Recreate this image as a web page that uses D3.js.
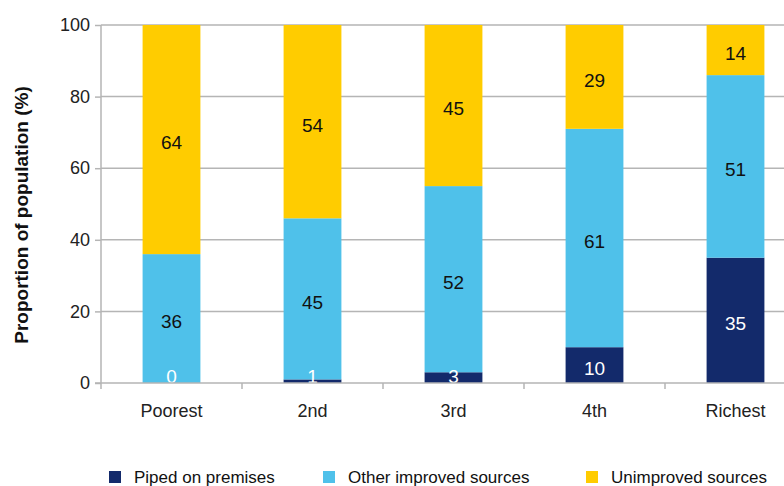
<!DOCTYPE html>
<html>
<head>
<meta charset="utf-8">
<script src="https://cdn.jsdelivr.net/npm/d3@7"></script>
<style>
  body { margin: 0; background: #fff; }
  svg { display: block; font-family: 'Liberation Sans Narrow', 'Liberation Sans', Arial, sans-serif; }
  .axis text { font-size: 18px; fill: #222; }
  .axis path, .axis line { stroke: #b5b5b5; }
</style>
</head>
<body>
<div id="chart"></div>
<script>
const quintiles = ['Poorest', '2nd', '3rd', '4th', 'Richest'];
const piped = [0, 1, 3, 10, 35];
const otherImproved = [36, 45, 52, 61, 51];
const unimproved = [64, 54, 45, 29, 14];
const seriesNames = ['Piped on premises', 'Other improved sources', 'Unimproved sources'];
const seriesColors = ['#132a6b', '#4fc1ea', '#ffcc00'];
const labelColors = ['#fff', '#111', '#111'];
const yTicks = [0, 20, 40, 60, 80, 100];

const width = 784, height = 486;
const m = {top: 25, left: 101, bottom: 103};

const rows = quintiles.map((q, i) => ({q, a: piped[i], b: otherImproved[i], c: unimproved[i]}));
const stack = d3.stack().keys(['a', 'b', 'c']);
const layers = stack(rows);

const x = d3.scaleBand().domain(quintiles).range([m.left, m.left + 141 * 5]).paddingInner(0.59).paddingOuter(0.295);
const xEdge = d3.scaleBand().domain(quintiles).range([m.left, m.left + 141 * 5]);
const y = d3.scaleLinear().domain([0, 100]).range([height - m.bottom, m.top]);

const svg = d3.select('#chart').append('svg').attr('width', width).attr('height', height);

// gridlines
svg.append('g').selectAll('line').data(yTicks.filter(d => d > 0)).enter().append('line')
  .attr('x1', m.left).attr('x2', width)
  .attr('y1', d => y(d)).attr('y2', d => y(d))
  .attr('stroke', '#b5b5b5').attr('stroke-width', 1.5);

// bars first, labels on top
const bars = svg.append('g');
const labels = svg.append('g');
layers.forEach((layer, li) => {
  bars.selectAll('rect.s' + li).data(layer).enter().append('rect')
    .attr('class', 's' + li)
    .attr('x', d => x(d.data.q))
    .attr('width', x.bandwidth())
    .attr('y', d => y(d[1]))
    .attr('height', d => y(d[0]) - y(d[1]))
    .attr('fill', seriesColors[li]);
  labels.selectAll('text.s' + li).data(layer).enter().append('text')
    .attr('class', 's' + li)
    .attr('x', d => x(d.data.q) + x.bandwidth() / 2)
    .attr('y', d => Math.min(y((d[0] + d[1]) / 2) + 3, y(0) - 7))
    .attr('dy', '0.36em')
    .attr('text-anchor', 'middle')
    .attr('font-size', 19)
    .attr('fill', labelColors[li])
    .text(d => d[1] - d[0]);
});

// y axis
const yAxis = svg.append('g').attr('class', 'axis')
  .attr('transform', `translate(${m.left},0)`)
  .call(d3.axisLeft(y).tickValues(yTicks).tickSize(6).tickPadding(5).tickSizeOuter(0));
yAxis.select('.domain').attr('d', `M0,${y(100)}V${y(0) + 6}`).attr('stroke-width', 1.5);
yAxis.selectAll('line').attr('stroke-width', 1.5);
yAxis.selectAll('text').attr('font-size', 19);

// x axis
const xAxis = svg.append('g').attr('class', 'axis')
  .attr('transform', `translate(0,${y(0)})`)
  .call(d3.axisBottom(x).tickSize(0).tickPadding(21));
xAxis.select('.domain').attr('d', `M${m.left - 6},0H${width}`).attr('stroke-width', 1.5);
xAxis.selectAll('.edge').data(quintiles.slice(1)).enter().append('line')
  .attr('class', 'edge')
  .attr('x1', d => xEdge(d)).attr('x2', d => xEdge(d))
  .attr('y1', 0).attr('y2', 6)
  .attr('stroke', '#b5b5b5').attr('stroke-width', 1.5);

// y title
svg.append('text')
  .attr('transform', `translate(28,215) rotate(-90)`)
  .attr('text-anchor', 'middle')
  .attr('font-size', 19).attr('font-weight', 'bold').attr('fill', '#111')
  .text('Proportion of population (%)');

// legend
const legendX = [109, 323, 586];
const legend = svg.append('g').selectAll('g').data(seriesNames).enter().append('g')
  .attr('transform', (d, i) => `translate(${legendX[i]},471)`);
legend.append('rect').attr('width', 12).attr('height', 12).attr('fill', (d, i) => seriesColors[i]);
legend.append('text').attr('x', 25).attr('y', 12).attr('font-size', 17).attr('fill', '#111').text(d => d);
</script>
</body>
</html>
